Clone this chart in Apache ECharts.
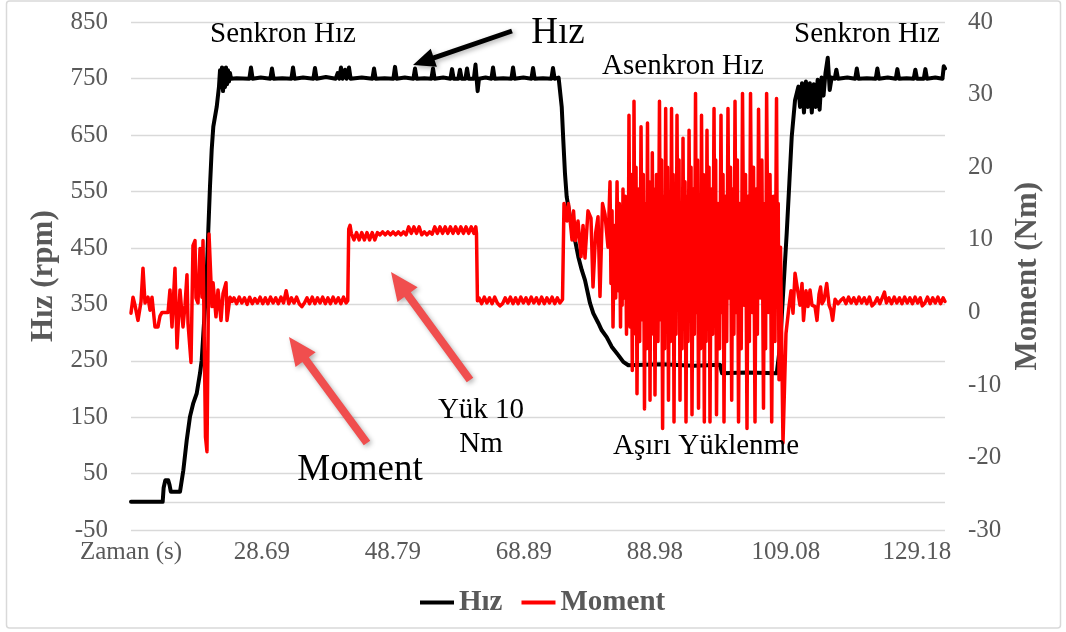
<!DOCTYPE html>
<html>
<head>
<meta charset="utf-8">
<script src="https://cdn.jsdelivr.net/npm/echarts@6.0.0/dist/echarts.min.js"></script>
<style>
  html, body { margin: 0; padding: 0; background: #ffffff; }
  #chart { width: 1066px; height: 632px; }
</style>
</head>
<body>
<div id="chart"></div>
<script>
// ---- time axis ticks (s) ----
const timeTickValues = [8.59, 28.69, 48.79, 68.89, 88.98, 109.08, 129.18];
const timeTickLabels = ['Zaman (s)', '28.69', '48.79', '68.89', '88.98', '109.08', '129.18'];
// ---- speed axis: labelled values and the grid lines (0 rpm is where the time axis crosses) ----
const hizLabelValues = [-50, 50, 150, 250, 350, 450, 550, 650, 750, 850];
const hizGridValues = [-50, 0, 50, 150, 250, 350, 450, 550, 650, 750, 850];

// ---- Hız (rpm): [time s, speed] ----
const hizStart = [
  [8.59, 0], [13.45, 0], [13.6, 25], [13.85, 38], [14.3, 38], [14.5, 30], [14.7, 18], [16.11, 18],
  [16.62, 56], [17.14, 109], [17.64, 151], [18.15, 175], [18.67, 192], [19.18, 228], [19.44, 251],
  [19.69, 298], [19.95, 346], [20.21, 405], [20.45, 481], [20.71, 559], [20.97, 624], [21.22, 665],
  [21.74, 700], [22.09, 736], [22.25, 765], [22.4, 735], [22.55, 770], [22.71, 728], [22.86, 768],
  [23.01, 735], [23.17, 770], [23.32, 740], [23.47, 765], [23.63, 745], [23.78, 760], [23.93, 750]
];
const hizSteady = [
  [24.8, 751], [26.75, 750], [27.0, 770], [27.25, 750], [28.5, 752], [29.97, 750], [30.22, 768], [30.47, 750],
  [31.8, 751], [33.2, 750], [33.45, 770], [33.7, 750], [35.0, 752], [36.57, 750], [36.82, 769], [37.07, 750],
  [38.5, 753], [40.0, 750], [40.3, 760], [40.55, 750], [40.81, 770], [41.06, 750], [41.42, 766], [41.67, 750],
  [42.04, 770], [42.29, 750], [44.0, 752], [45.63, 750], [45.88, 768], [46.13, 750], [47.5, 751], [48.85, 750],
  [49.1, 771], [49.35, 750], [50.6, 752], [51.92, 750], [52.17, 768], [52.42, 750], [53.6, 751], [54.68, 750],
  [54.93, 768], [55.18, 750], [56.5, 752], [57.6, 750], [57.85, 767], [58.1, 750], [58.82, 750], [59.07, 766],
  [59.32, 750], [59.9, 750], [60.15, 768], [60.4, 750], [61.2, 750], [61.45, 775], [61.62, 750], [61.78, 728],
  [61.98, 750], [63.0, 752], [63.89, 750], [64.14, 770], [64.39, 750], [65.7, 751], [66.96, 750], [67.21, 770],
  [67.46, 750], [68.8, 752], [70.03, 750], [70.28, 769], [70.53, 750], [71.8, 751], [73.09, 750], [73.34, 769],
  [73.59, 750], [74.2, 752], [74.42, 751]
];
const hizDrop = [
  [74.68, 700], [74.92, 641], [75.18, 582], [75.44, 541], [75.95, 505], [76.72, 464], [77.23, 434],
  [77.75, 411], [78.25, 393], [79.02, 352], [79.53, 334], [80.29, 317], [80.82, 304], [81.58, 292],
  [82.35, 275], [83.36, 260], [84.13, 248], [84.9, 242], [90.0, 244], [95.0, 241], [98.97, 243],
  [99.28, 228], [103.0, 229], [107.67, 228]
];
const hizRecover = [
  [108.17, 275], [108.68, 375], [109.2, 476], [109.6, 564], [109.97, 647], [110.48, 712], [110.99, 736],
  [111.25, 700], [111.55, 742], [111.85, 690], [112.15, 745], [112.45, 700], [112.75, 742], [113.05, 690],
  [113.35, 740], [113.65, 700], [113.95, 748], [114.25, 695], [114.55, 752], [114.85, 720], [115.15, 760],
  [115.5, 787], [115.8, 730], [116.1, 752], [116.57, 750], [116.82, 766], [117.07, 750], [118.5, 752],
  [119.71, 750], [119.96, 768], [120.21, 750], [121.5, 751], [122.86, 750], [123.11, 768], [123.36, 750],
  [124.7, 752], [125.93, 750], [126.18, 767], [126.43, 750], [127.6, 751], [128.69, 750], [128.94, 766],
  [129.19, 750], [130.23, 750], [130.48, 767], [130.73, 750], [132.0, 752], [133.1, 750], [133.3, 772],
  [133.49, 768]
];

// ---- Moment (Nm): [time s, torque] ----
const momentStart = [
  [8.59, -0.1], [8.9, 2.1], [9.2, 1.0], [9.66, -1.1], [10.13, 1.5], [10.43, 6.1], [10.74, 1.3], [11.2, 2.1],
  [11.51, 0.3], [11.81, 2.1], [12.27, -2.0], [12.73, -2.0], [13.04, -0.5], [13.35, 0], [14.27, 0],
  [14.57, 3.1], [14.88, -2.0], [15.34, 6.1], [15.65, -4.9], [16.11, 3.1], [16.57, -2.0], [16.88, 1.0],
  [17.18, 5.2], [17.34, -1.5], [17.8, -6.9], [18.1, 9.2], [18.41, 9.9], [18.56, 2.0], [18.87, 1.3],
  [19.18, 8.8], [19.48, 2.1], [19.64, 9.9], [20.02, -17.2], [20.25, -19.2], [20.56, 10.8], [21.02, 0.8],
  [21.18, 4.1], [21.63, -0.6], [21.94, 3.1], [22.4, -1.1], [22.71, 2.6], [23.17, 4.1], [23.32, -1.1],
  [23.78, 2.1], [24.09, 1.5]
];
const momentIdle1 = [
  [24.4, 2.0], [24.8, 1.2], [25.2, 2.1], [25.6, 1.3], [26.0, 2.0], [26.4, 1.1], [26.8, 2.1], [27.2, 1.2],
  [27.6, 1.9], [28.0, 1.3], [28.4, 2.1], [28.8, 1.2], [29.2, 2.0], [29.6, 1.2], [30.0, 2.1], [30.4, 1.3],
  [30.8, 2.0], [31.2, 1.2], [31.6, 2.1], [32.0, 1.3], [32.4, 3.0], [32.8, 1.2], [33.2, 2.0], [33.6, 1.3],
  [34.0, 2.1], [34.4, 1.2], [34.8, 0.8], [35.2, 1.3], [35.6, 2.0], [36.0, 1.2], [36.4, 2.1], [36.8, 1.2],
  [37.2, 2.0], [37.6, 1.3], [38.0, 2.1], [38.4, 1.2], [38.8, 2.0], [39.2, 1.2], [39.6, 2.1], [40.0, 1.3],
  [40.4, 2.0], [40.8, 1.2], [41.2, 2.1], [41.6, 1.3], [41.85, 1.6]
];
const momentLoad = [
  [42.0, 11.5], [42.2, 12.0], [42.4, 10.9], [42.8, 10.0], [43.2, 11.0], [43.6, 10.0], [44.0, 11.0],
  [44.4, 10.0], [44.8, 11.0], [45.2, 10.0], [45.6, 11.0], [46.0, 10.0], [46.4, 11.0], [46.8, 10.7],
  [47.2, 11.1], [47.6, 10.7], [48.0, 11.1], [48.4, 10.7], [48.8, 11.1], [49.2, 10.7], [49.6, 11.1],
  [50.0, 10.7], [50.4, 11.1], [50.8, 10.7], [51.2, 11.8], [51.6, 10.9], [52.0, 11.8], [52.4, 10.9],
  [52.8, 11.8], [53.2, 10.7], [53.6, 11.1], [54.0, 10.7], [54.4, 11.1], [54.8, 10.8], [55.2, 11.8],
  [55.6, 10.9], [56.0, 11.8], [56.4, 10.9], [56.8, 11.8], [57.2, 10.9], [57.6, 11.8], [58.0, 10.9],
  [58.4, 11.8], [58.8, 10.9], [59.2, 11.8], [59.6, 10.9], [60.0, 11.8], [60.4, 10.9], [60.8, 11.8],
  [61.2, 10.9], [61.5, 11.8], [61.6, 10.9]
];
const momentIdle2 = [
  [61.75, 1.6], [62.0, 2.0], [62.4, 1.2], [62.8, 2.1], [63.2, 1.3], [63.6, 2.0], [64.0, 1.2], [64.4, 2.1],
  [64.8, 1.3], [65.2, 0.9], [65.6, 1.2], [66.0, 2.0], [66.4, 1.3], [66.8, 2.1], [67.2, 1.2], [67.6, 2.0],
  [68.0, 1.2], [68.4, 2.1], [68.8, 1.3], [69.2, 2.0], [69.6, 1.2], [70.0, 2.1], [70.4, 1.3], [70.8, 2.0],
  [71.2, 1.2], [71.6, 2.1], [72.0, 1.2], [72.4, 2.0], [72.8, 1.3], [73.2, 2.1], [73.6, 1.2], [74.0, 2.0],
  [74.4, 1.3], [74.8, 1.8]
];
const momentOverload = [
  [75.03, 15.0], [75.49, 12.6], [75.72, 15.0], [76.26, 10.0], [76.49, 14.0], [76.8, 9.9], [77.18, 12.6],
  [77.64, 7.7], [77.95, 12.0], [78.25, 7.5], [78.71, 14.0], [79.17, 13.0], [79.48, 3.5], [79.88, 10.9],
  [80.25, 13.2], [80.55, 2.2], [80.94, 15.0], [81.32, 13.5], [81.78, 9.0], [82.09, 18.0],
  [82.24, 4], [82.4, 14], [82.55, -2.0], [82.76, 12], [82.96, 2], [83.17, 18.0], [83.35, 3], [83.52, 15],
  [83.7, -2.0], [83.83, 13], [83.95, 1], [84.08, 17.0], [84.26, 2], [84.44, 16], [84.62, -3.0],
  [84.75, 14], [84.87, 0], [85.0, 27.2], [85.17, -2], [85.34, 19], [85.51, -8.0], [85.6, 16], [85.68, -3],
  [85.77, 29.1], [85.92, 0], [86.08, 20], [86.23, -11.2], [86.44, 17], [86.64, -4], [86.85, 25.6],
  [87.03, -1], [87.2, 19], [87.38, -13.3], [87.53, 15], [87.69, -5], [87.84, 26.1], [87.97, 2], [88.1, 18],
  [88.23, -12.1], [88.35, 14], [88.46, -3], [88.58, 22.0], [88.72, 0], [88.85, 17], [88.99, -11.4],
  [89.22, 19], [89.45, -4], [89.68, 29.1], [89.84, -1], [90.0, 21], [90.16, -16.0], [90.32, 16], [90.47, -5],
  [90.63, 28.1], [90.77, 1], [90.92, 20], [91.06, -12.1], [91.22, 15], [91.37, -4], [91.53, 28.1],
  [91.66, 0], [91.78, 19], [91.91, -15.1], [92.06, 17], [92.22, -3], [92.37, 27.2], [92.52, 2], [92.68, 21],
  [92.83, -12.1], [92.98, 14], [93.14, -5], [93.29, 24.0], [93.44, 0], [93.6, 18], [93.75, -15.1],
  [93.91, 16], [94.06, -4], [94.22, 25.1], [94.37, 1], [94.52, 20], [94.67, -14.1], [94.85, 17], [95.03, -3],
  [95.21, 30.2], [95.36, 0], [95.52, 21], [95.67, -13.2], [95.82, 15], [95.98, -5], [96.13, 27.2],
  [96.27, 2], [96.42, 19], [96.56, -15.1], [96.7, 16], [96.83, -4], [96.97, 25.1], [97.12, 0], [97.28, 20],
  [97.43, -15.1], [97.64, 17], [97.84, -3], [98.05, 28.1], [98.18, 1], [98.3, 21], [98.43, -14.1],
  [98.66, 15], [98.89, -5], [99.12, 27.2], [99.27, 0], [99.43, 19], [99.58, -15.1], [99.78, 16], [99.99, -4],
  [100.19, 28.1], [100.38, 2], [100.57, 20], [100.76, -12.1], [100.93, 17], [101.1, -3], [101.27, 29.1],
  [101.45, 0], [101.63, 21], [101.81, -15.1], [102.01, 15], [102.22, -5], [102.42, 30.2], [102.65, 1],
  [102.88, 19], [103.11, -16.0], [103.29, 16], [103.47, -4], [103.65, 30.2], [103.88, 0], [104.11, 20],
  [104.34, -15.1], [104.52, 17], [104.7, -3], [104.88, 28.0], [105.13, 2], [105.39, 21], [105.64, -13.2],
  [105.8, 15], [105.96, -5], [106.12, 30.2], [106.38, 0], [106.64, 19], [106.9, -15.1], [107.15, 16],
  [107.4, -4], [107.64, 29.5], [107.77, 3], [107.9, 15], [108.02, -9.3],
  [108.25, 9.0], [108.63, -18.0], [109.09, -2.9], [109.55, 0.8], [109.86, 3.0],
  [110.17, -0.1], [110.48, 5.4], [110.94, 2.7], [111.24, 1.0], [111.55, 4.0], [111.78, -1.1],
  [112.16, 3.0], [112.47, 0.8], [112.78, 3.1], [113.08, 1.0], [113.54, 0.8], [113.85, -1.1],
  [114.16, 2.5], [114.4, 3.5], [114.62, 1.2], [114.93, 1.7], [115.34, 4.0], [115.7, 1.0], [116.0, 0.3],
  [116.25, -1.1], [116.62, 1.8], [117.08, 1.2], [117.54, 1.7]
];
const momentIdle3 = [
  [117.9, 2.0], [118.3, 1.2], [118.7, 2.1], [119.1, 1.3], [119.5, 2.0], [119.9, 1.2], [120.3, 2.1],
  [120.7, 1.3], [121.1, 2.0], [121.5, 1.2], [121.9, 2.1], [122.3, 0.9], [122.7, 1.3], [123.1, 2.0],
  [123.5, 1.2], [123.9, 2.1], [124.2, 2.8], [124.5, 1.3], [124.9, 2.0], [125.3, 1.2], [125.7, 2.1],
  [126.1, 1.3], [126.5, 2.0], [126.9, 1.2], [127.3, 2.1], [127.7, 1.3], [128.1, 2.0], [128.5, 1.2],
  [128.9, 2.1], [129.3, 1.3], [129.7, 2.0], [130.0, 0.9], [130.4, 1.3], [130.8, 2.1], [131.2, 1.2],
  [131.6, 2.0], [132.0, 1.3], [132.4, 2.1], [132.8, 1.2], [133.2, 2.0], [133.49, 1.5]
];

const hizData = [].concat(hizStart, hizSteady, hizDrop, hizRecover);
const momentData = [].concat(momentStart, momentIdle1, momentLoad, momentIdle2, momentOverload, momentIdle3);

const SERIF = "'Liberation Serif', 'Times New Roman', serif";
const GREY = '#595959';
const GRID_LINE = '#d9d9d9';
const ARROW_RED = '#f04e4e';

// polygon outline of a block arrow from (x1,y1) to the tip (x2,y2)
function arrowShape(x1, y1, x2, y2, shaftW, headW, headL) {
  const dx = x2 - x1, dy = y2 - y1, len = Math.hypot(dx, dy);
  const ux = dx / len, uy = dy / len, nx = -uy, ny = ux;
  const bx = x2 - ux * headL, by = y2 - uy * headL;
  const s = shaftW / 2, h = headW / 2;
  return [
    [x1 + nx * s, y1 + ny * s], [bx + nx * s, by + ny * s], [bx + nx * h, by + ny * h], [x2, y2],
    [bx - nx * h, by - ny * h], [bx - nx * s, by - ny * s], [x1 - nx * s, y1 - ny * s]
  ];
}
function arrow(x1, y1, x2, y2, color, shaftW, headW, headL) {
  return {
    type: 'polygon', silent: true, z: 100,
    shape: { points: arrowShape(x1, y1, x2, y2, shaftW, headW, headL) },
    style: { fill: color, shadowBlur: 5, shadowOffsetX: 2, shadowOffsetY: 2, shadowColor: 'rgba(0,0,0,0.3)' }
  };
}
function note(text, x, y, size) {
  return {
    type: 'text', silent: true, z: 100, x: x, y: y,
    style: { text: text, fill: '#000', font: size + 'px ' + SERIF, align: 'center', verticalAlign: 'middle', lineHeight: 34 }
  };
}

const chart = echarts.init(document.getElementById('chart'), null, { renderer: 'canvas' });
chart.setOption({
  animation: false,
  backgroundColor: '#ffffff',
  grid: { left: 131, right: 121, top: 22.3, bottom: 102, containLabel: false, outerBoundsMode: 'none' },
  legend: {
    data: ['Hız', 'Moment'],
    left: 415, top: 583,
    icon: 'rect', itemWidth: 34, itemHeight: 4, itemGap: 19,
    textStyle: { fontFamily: SERIF, fontSize: 29, fontWeight: 'bold', color: GREY }
  },
  xAxis: {
    type: 'value', min: 8.59, max: 133.49, position: 'bottom',
    axisLine: { show: false, onZero: false }, axisTick: { show: false }, splitLine: { show: false },
    axisLabel: {
      customValues: timeTickValues,
      margin: 10, fontFamily: SERIF, fontSize: 25, color: GREY,
      formatter: function (v) {
        const i = timeTickValues.findIndex(function (t) { return Math.abs(t - v) < 1e-6; });
        return i >= 0 ? timeTickLabels[i] : '';
      }
    }
  },
  yAxis: [
    {
      type: 'value', min: -50, max: 850,
      name: 'Hız (rpm)', nameLocation: 'middle', nameRotate: 90, nameGap: 64,
      nameTextStyle: { fontFamily: SERIF, fontSize: 31, fontWeight: 'bold', color: GREY },
      axisLine: { show: false },
      axisTick: { show: false, customValues: hizGridValues },
      axisLabel: { customValues: hizLabelValues, margin: 23, fontFamily: SERIF, fontSize: 25, color: GREY },
      splitLine: { show: true, lineStyle: { color: GRID_LINE, width: 1.3 } }
    },
    {
      type: 'value', min: -30, max: 40, interval: 10, position: 'right',
      name: 'Moment (Nm)', nameLocation: 'middle', nameRotate: 90, nameGap: 57,
      nameTextStyle: { fontFamily: SERIF, fontSize: 31, fontWeight: 'bold', color: GREY },
      axisLine: { show: false }, axisTick: { show: false },
      axisLabel: { margin: 23, fontFamily: SERIF, fontSize: 25, color: GREY },
      splitLine: { show: false }
    }
  ],
  series: [
    {
      name: 'Hız', type: 'line', yAxisIndex: 0, data: hizData,
      showSymbol: false, symbol: 'none', z: 3,
      lineStyle: { color: '#000000', width: 4, cap: 'round', join: 'round' },
      itemStyle: { color: '#000000' }
    },
    {
      name: 'Moment', type: 'line', yAxisIndex: 1, data: momentData,
      showSymbol: false, symbol: 'none', z: 4,
      lineStyle: { color: '#ff0000', width: 3.5, cap: 'round', join: 'round' },
      itemStyle: { color: '#ff0000' }
    }
  ],
  graphic: [
    { type: 'rect', silent: true, z: 0, shape: { x: 6.5, y: 1, width: 1054, height: 627, r: 3 },
      style: { fill: 'none', stroke: GRID_LINE, lineWidth: 1.5 } },
    note('Senkron Hız', 283, 34, 29),
    note('Hız', 558, 33, 37),
    note('Asenkron Hız', 683, 66, 29),
    note('Senkron Hız', 867, 34, 29),
    note('Yük 10\nNm', 481, 427, 29),
    note('Moment', 360, 470, 37),
    note('Aşırı Yüklenme', 706, 446, 29),
    arrow(512, 31, 413, 65, '#000000', 5, 19, 22),
    arrow(470, 380, 391, 272, ARROW_RED, 8, 25, 28),
    arrow(367, 443, 289, 337, ARROW_RED, 8, 25, 28)
  ]
});
</script>
</body>
</html>
